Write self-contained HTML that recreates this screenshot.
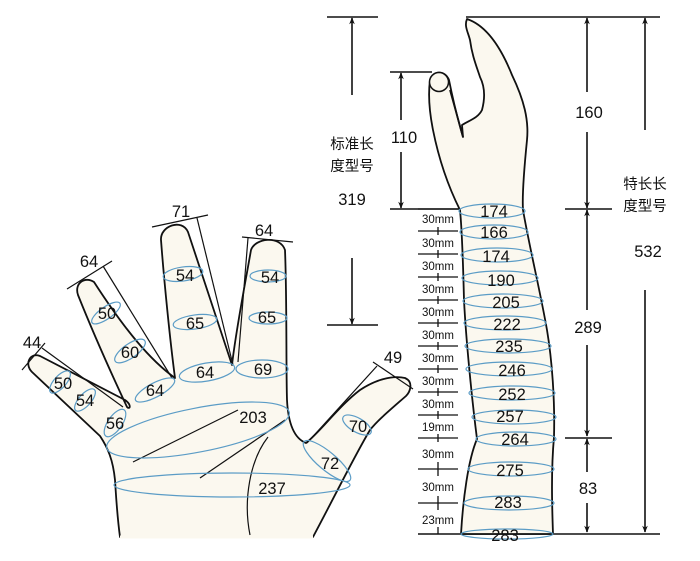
<!DOCTYPE html>
<html><head><meta charset="utf-8"><style>
html,body{margin:0;padding:0;background:#fff;}
svg{display:block;}
text{font-family:"Liberation Sans","Noto Sans CJK SC",sans-serif;fill:#111;}
</style></head><body>
<svg width="700" height="561" viewBox="0 0 700 561" xmlns="http://www.w3.org/2000/svg">
<defs>
<marker id="ah" viewBox="0 0 10 10" refX="9" refY="5" markerWidth="7" markerHeight="9" orient="auto-start-reverse" markerUnits="userSpaceOnUse"><path d="M0,1 L10,5 L0,9 L3,5 Z" fill="#111"/></marker>
</defs>
<g stroke="#111" stroke-width="1.6" fill="none">
<line x1="327" y1="17" x2="378" y2="17"/>
<line x1="352" y1="95" x2="352" y2="18" marker-end="url(#ah)"/>
<line x1="327" y1="325" x2="378" y2="325"/>
<line x1="352" y1="258" x2="352" y2="324" marker-end="url(#ah)"/>
<line x1="390" y1="72" x2="432" y2="72"/>
<line x1="390" y1="209" x2="462" y2="209"/>
<line x1="401" y1="120" x2="401" y2="73" marker-end="url(#ah)"/>
<line x1="401" y1="152" x2="401" y2="208" marker-end="url(#ah)"/>
<line x1="466" y1="17" x2="660" y2="17"/>
<line x1="587" y1="92" x2="587" y2="18" marker-end="url(#ah)"/>
<line x1="587" y1="132" x2="587" y2="208" marker-end="url(#ah)"/>
<line x1="565" y1="209" x2="612" y2="209"/>
<line x1="587" y1="310" x2="587" y2="210" marker-end="url(#ah)"/>
<line x1="587" y1="345" x2="587" y2="436" marker-end="url(#ah)"/>
<line x1="565" y1="438" x2="612" y2="438"/>
<line x1="587" y1="472" x2="587" y2="439" marker-end="url(#ah)"/>
<line x1="587" y1="503" x2="587" y2="532" marker-end="url(#ah)"/>
<line x1="418" y1="534" x2="660" y2="534"/>
<line x1="645" y1="130" x2="645" y2="18" marker-end="url(#ah)"/>
<line x1="645" y1="290" x2="645" y2="532" marker-end="url(#ah)"/>
</g>
<g stroke="#111" stroke-width="1.3">
<line x1="418" y1="209" x2="458" y2="209"/>
<line x1="418" y1="231" x2="458" y2="231"/><line x1="438" y1="227" x2="438" y2="235"/>
<line x1="418" y1="254" x2="458" y2="254"/><line x1="438" y1="250" x2="438" y2="258"/>
<line x1="418" y1="277" x2="458" y2="277"/><line x1="438" y1="273" x2="438" y2="281"/>
<line x1="418" y1="300" x2="458" y2="300"/><line x1="438" y1="296" x2="438" y2="304"/>
<line x1="418" y1="323" x2="458" y2="323"/><line x1="438" y1="319" x2="438" y2="327"/>
<line x1="418" y1="346" x2="458" y2="346"/><line x1="438" y1="342" x2="438" y2="350"/>
<line x1="418" y1="369" x2="458" y2="369"/><line x1="438" y1="365" x2="438" y2="373"/>
<line x1="418" y1="392" x2="458" y2="392"/><line x1="438" y1="388" x2="438" y2="396"/>
<line x1="418" y1="415" x2="458" y2="415"/><line x1="438" y1="411" x2="438" y2="419"/>
<line x1="418" y1="438" x2="458" y2="438"/><line x1="438" y1="434" x2="438" y2="442"/>
<line x1="418" y1="469" x2="458" y2="469"/><line x1="438" y1="462" x2="438" y2="476"/>
<line x1="418" y1="503" x2="458" y2="503"/><line x1="438" y1="496" x2="438" y2="510"/>
<line x1="438" y1="527" x2="438" y2="534"/>
</g>
<g font-size="11.5" text-anchor="middle">
<text x="438" y="223">30mm</text><text x="438" y="247">30mm</text><text x="438" y="270">30mm</text>
<text x="438" y="293">30mm</text><text x="438" y="316">30mm</text><text x="438" y="339">30mm</text>
<text x="438" y="362">30mm</text><text x="438" y="385">30mm</text><text x="438" y="408">30mm</text>
<text x="438" y="431">19mm</text><text x="438" y="458">30mm</text><text x="438" y="491">30mm</text>
<text x="438" y="524">23mm</text>
</g>
<!-- arm -->
<path d="M467,19 C485,25 500,45 512,75 C524,100 529,120 527,140 C524,170 522,195 523,210 C530,250 540,290 547,330 C552,360 555,400 554,437 C551,470 552,505 553,534 L461,534 C463,500 468,460 477,439 C472,400 466,340 464,300 C463,260 462,230 460,210 C450,190 440,165 433,130 C429,110 428,95 430,80 C433,70 445,70 449,80 C453,100 458,120 463,137 L462,125 C470,120 478,118 482,110 C486,95 484,85 480,77 C476,65 472,55 470,40 C468,32 464,26 467,19 Z" fill="#fbf8ef" stroke="#111" stroke-width="1.8" stroke-linejoin="round"/>
<circle cx="439" cy="82" r="9.5" fill="#fbf8ef" stroke="#111" stroke-width="1.5"/>
<line x1="450" y1="90" x2="463" y2="137" stroke="#111" stroke-width="1.8"/>
<g fill="none" stroke="#5b9cc6" stroke-width="1.2">
<ellipse cx="492" cy="211" rx="33" ry="7"/><ellipse cx="494" cy="232" rx="34" ry="7"/>
<ellipse cx="497" cy="255" rx="36" ry="7"/><ellipse cx="500" cy="278" rx="38" ry="7"/>
<ellipse cx="503" cy="301" rx="40" ry="7"/><ellipse cx="505" cy="323" rx="41" ry="7"/>
<ellipse cx="508" cy="346" rx="43" ry="7"/><ellipse cx="509" cy="369" rx="43" ry="7"/>
<ellipse cx="512" cy="393" rx="43" ry="7"/><ellipse cx="514" cy="417" rx="42" ry="7"/>
<ellipse cx="516" cy="439" rx="40" ry="7"/><ellipse cx="511" cy="469" rx="43" ry="7"/>
<ellipse cx="509" cy="503" rx="45" ry="7"/><ellipse cx="507" cy="534" rx="46" ry="5"/>
</g>
<g font-size="16.5" text-anchor="middle">
<text x="494" y="217">174</text><text x="494" y="238">166</text><text x="496" y="262">174</text>
<text x="501" y="286">190</text><text x="506" y="308">205</text><text x="507" y="330">222</text>
<text x="509" y="352">235</text><text x="512" y="376">246</text><text x="512" y="400">252</text>
<text x="510" y="422">257</text><text x="515" y="445">264</text><text x="510" y="476">275</text>
<text x="508" y="508">283</text><text x="505" y="541">283</text>
<text x="589" y="118">160</text><text x="588" y="333">289</text><text x="588" y="494">83</text>
<text x="648" y="257">532</text><text x="352" y="205">319</text>
</g>
<rect x="390" y="122" width="30" height="28" fill="#fff"/>
<text x="404" y="143" font-size="16.5" text-anchor="middle">110</text>
<g font-size="14.5" text-anchor="middle">
<text x="352" y="149">标准长</text><text x="352" y="171">度型号</text>
<text x="645" y="189">特长长</text><text x="645" y="211">度型号</text>
</g>
<!-- left hand -->
<path d="M120,537 C117,515 116,495 115,480 C113,460 108,448 100,436 L32,372 C24,364 30,352 40,356 L125,400 C132,405 130,410 127,407 C105,360 90,325 78,295 C74,283 85,276 94,282 C125,330 150,360 175,378 C170,340 164,280 161,240 C160,226 182,218 188,232 L232,365 C236,330 244,290 251,250 C255,238 280,235 285,250 C287,300 286,370 287,400 C288,420 293,438 306,443 C320,432 340,405 360,390 C375,380 392,375 405,378 C414,382 410,392 406,396 C390,410 378,420 370,430 C355,455 338,490 313,537 Z" fill="#fbf8ef" stroke="#111" stroke-width="1.8" stroke-linejoin="round"/>
<path d="M313,537 L120,537" stroke="#fbf8ef" stroke-width="3"/>
<g stroke="#111" stroke-width="1.2" fill="none">
<line x1="22" y1="370" x2="45" y2="343"/><line x1="42" y1="348" x2="123" y2="407"/>
<line x1="67" y1="289" x2="112" y2="261"/><line x1="103" y1="266" x2="172" y2="378"/>
<line x1="152" y1="227" x2="208" y2="215"/><line x1="197" y1="218" x2="233" y2="365"/>
<line x1="242" y1="237" x2="293" y2="242"/><line x1="248" y1="238" x2="238" y2="362"/>
<line x1="373" y1="362" x2="413" y2="389"/><line x1="377" y1="366" x2="307" y2="443"/>
<line x1="133" y1="462" x2="238" y2="410"/><line x1="200" y1="478" x2="285" y2="420"/>
<path d="M268,437 C250,460 243,500 250,535"/>
</g>
<g fill="none" stroke="#5b9cc6" stroke-width="1.2">
<ellipse cx="60" cy="382" rx="14" ry="6" transform="rotate(-48 60 382)"/>
<ellipse cx="85" cy="400" rx="14" ry="6" transform="rotate(-48 85 400)"/>
<ellipse cx="115" cy="423" rx="16" ry="7" transform="rotate(-55 115 423)"/>
<ellipse cx="106" cy="313" rx="17" ry="6" transform="rotate(-35 106 313)"/>
<ellipse cx="130" cy="351" rx="18" ry="7" transform="rotate(-35 130 351)"/>
<ellipse cx="155" cy="390" rx="22" ry="7" transform="rotate(-28 155 390)"/>
<ellipse cx="183" cy="274" rx="20" ry="7" transform="rotate(-8 183 274)"/>
<ellipse cx="195" cy="322" rx="22" ry="7" transform="rotate(-8 195 322)"/>
<ellipse cx="207" cy="372" rx="28" ry="9" transform="rotate(-10 207 372)"/>
<ellipse cx="268" cy="276" rx="18" ry="6"/>
<ellipse cx="268" cy="318" rx="19" ry="6"/>
<ellipse cx="262" cy="369" rx="26" ry="9"/>
<ellipse cx="198" cy="430" rx="93" ry="22" transform="rotate(-11 198 430)"/>
<ellipse cx="232" cy="485" rx="118" ry="12"/>
<ellipse cx="327" cy="461" rx="30" ry="9" transform="rotate(40 327 461)"/>
<ellipse cx="357" cy="425" rx="16" ry="7" transform="rotate(30 357 425)"/>
</g>
<g font-size="16.5" text-anchor="middle">
<text x="32" y="348">44</text><text x="89" y="267">64</text><text x="181" y="217">71</text><text x="264" y="236">64</text><text x="393" y="363">49</text>
<text x="63" y="389">50</text><text x="85" y="406">54</text><text x="115" y="429">56</text>
<text x="107" y="319">50</text><text x="130" y="358">60</text><text x="155" y="396">64</text>
<text x="185" y="281">54</text><text x="195" y="329">65</text><text x="205" y="378">64</text>
<text x="270" y="283">54</text><text x="267" y="323">65</text><text x="263" y="375">69</text>
<text x="253" y="423">203</text><text x="272" y="494">237</text><text x="330" y="469">72</text><text x="358" y="432">70</text>
</g>
</svg>
</body></html>
